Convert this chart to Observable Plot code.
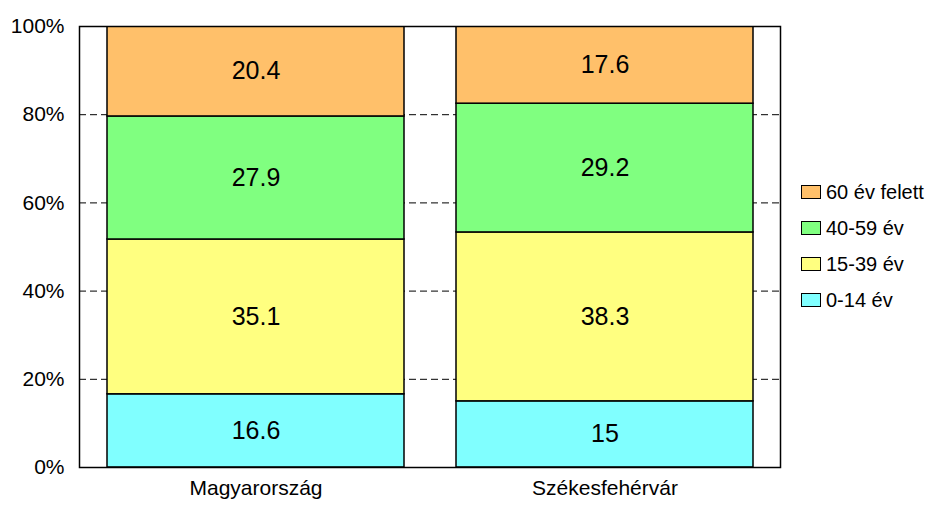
<!DOCTYPE html>
<html>
<head>
<meta charset="utf-8">
<script src="https://cdn.jsdelivr.net/npm/d3@7"></script>
<script src="https://cdn.jsdelivr.net/npm/@observablehq/plot@0.6"></script>
<style>
  html, body { margin: 0; padding: 0; background: #fff; }
  #wrap { position: relative; width: 929px; height: 507px; font-family: "Liberation Sans", Arial, sans-serif; }
  #legend { position: absolute; left: 801px; top: 174px; font-size: 20px; color: #000; }
  .item { display: flex; align-items: center; height: 36px; }
  .sw { width: 20px; height: 14px; border: 1px solid #000; margin-right: 5px; box-sizing: border-box; }
</style>
</head>
<body>
<div id="wrap"></div>
<script>
const places = ["Magyarország", "Székesfehérvár"];
const groups = ["0-14 év", "15-39 év", "40-59 év", "60 év felett"];
const colors = ["#80FFFF", "#FFFF80", "#80FF80", "#FFC06A"];
const magyarorszag = [16.6, 35.1, 27.9, 20.4];
const szekesfehervar = [15, 38.3, 29.2, 17.6];
const yTicks = [0, 20, 40, 60, 80, 100];

const series = [magyarorszag, szekesfehervar];
const data = [];
places.forEach((p, i) => groups.forEach((g, j) => data.push({place: p, group: g, value: series[i][j]})));

const chart = Plot.plot({
  width: 929,
  height: 507,
  marginLeft: 79,
  marginRight: 149,
  marginTop: 26,
  marginBottom: 40,
  style: {fontFamily: "'Liberation Sans', Arial, sans-serif", fontSize: "21px", background: "#fff", color: "#000"},
  x: {domain: places, paddingInner: 0.149, paddingOuter: 0.077, label: null, tickSize: 0, tickPadding: 13},
  y: {domain: [0, 100], ticks: yTicks, tickFormat: d => d + "%", label: null, tickSize: 0, tickPadding: 15},
  color: {domain: groups, range: colors},
  marks: [
    Plot.ruleY([20, 40, 60, 80], {stroke: "#000", strokeDasharray: "7,4", strokeWidth: 1}),
    Plot.barY(data, Plot.stackY({x: "place", y: "value", fill: "group", z: "group", order: groups, stroke: "#000", strokeWidth: 1.5, clip: true})),
    Plot.text(data, Plot.stackY({x: "place", y: "value", z: "group", order: groups, text: d => String(d.value), fontSize: 25, fill: "#000"})),
    Plot.frame({stroke: "#000", strokeWidth: 1.5})
  ]
});
document.getElementById("wrap").appendChild(chart);

const legend = document.createElement("div");
legend.id = "legend";
[...groups].reverse().forEach((g) => {
  const it = document.createElement("div");
  it.className = "item";
  const sw = document.createElement("div");
  sw.className = "sw";
  sw.style.background = colors[groups.indexOf(g)];
  const t = document.createElement("span");
  t.textContent = g;
  it.appendChild(sw); it.appendChild(t);
  legend.appendChild(it);
});
document.getElementById("wrap").appendChild(legend);
</script>
</body>
</html>
